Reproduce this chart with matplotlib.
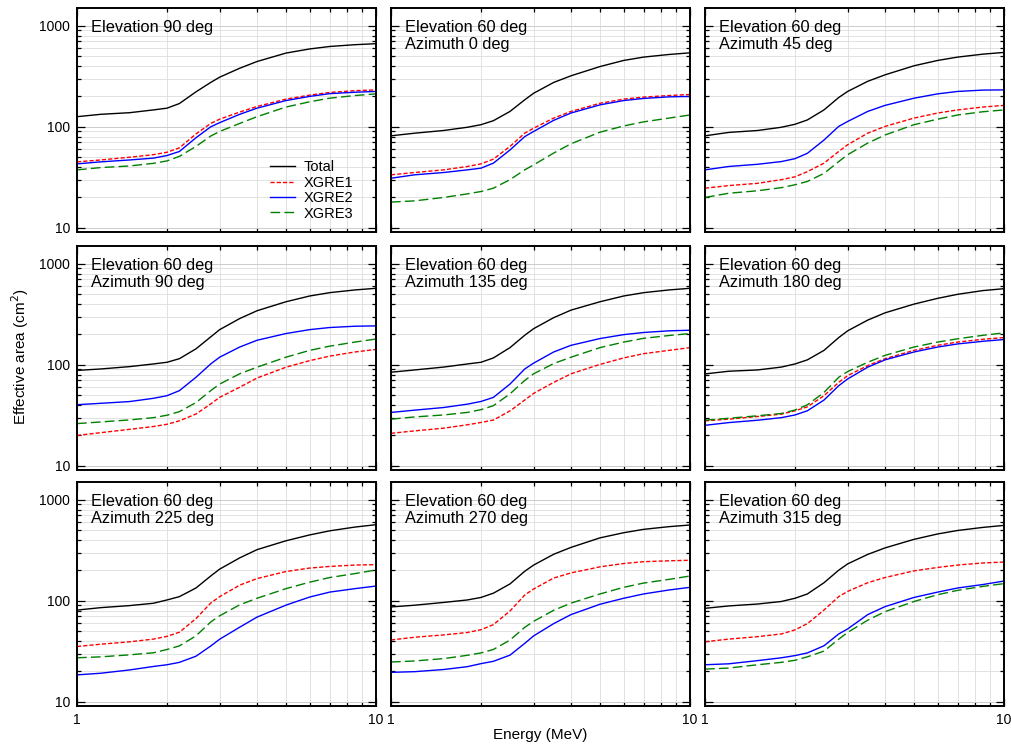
import numpy as np
import matplotlib
matplotlib.use("Agg")
import matplotlib.pyplot as plt
from matplotlib.ticker import FixedLocator, NullFormatter, FixedFormatter

plt.rcParams['font.family'] = ['Liberation Sans', 'DejaVu Sans']

# energy grid (MeV)
energy = [1.0, 1.2, 1.5, 1.8, 2.0, 2.2, 2.5, 2.8, 3.0, 3.5, 4.0, 5.0, 6.0, 7.0, 8.5, 10.0]

titles = ["Elevation 90 deg",
          "Elevation 60 deg\nAzimuth 0 deg",
          "Elevation 60 deg\nAzimuth 45 deg",
          "Elevation 60 deg\nAzimuth 90 deg",
          "Elevation 60 deg\nAzimuth 135 deg",
          "Elevation 60 deg\nAzimuth 180 deg",
          "Elevation 60 deg\nAzimuth 225 deg",
          "Elevation 60 deg\nAzimuth 270 deg",
          "Elevation 60 deg\nAzimuth 315 deg"]

# effective area (cm^2) per panel: total, XGRE1, XGRE2, XGRE3
el90_total = [126, 133, 138, 147, 153, 170, 222, 275, 310, 380, 443, 537, 590, 624, 650, 665]
el90_x1 = [45, 47, 50, 53, 56, 62, 85, 108, 119, 140, 159, 188, 206, 219, 228, 232]
el90_x2 = [43, 45, 47, 49, 52, 57, 78, 100, 110, 133, 153, 182, 200, 213, 220, 224]
el90_x3 = [37.5, 39.5, 41, 43.5, 46, 51, 64, 81, 90, 108, 126, 157, 177, 192, 204, 212]

az0_total = [81.5, 86.5, 92, 99, 105, 115, 142, 185, 215, 275, 320, 395, 454, 490, 520, 540]
az0_x1 = [33.5, 35.3, 37.5, 40.5, 43, 47.9, 64, 86.5, 97, 122, 142, 171, 188, 197, 204, 209]
az0_x2 = [31, 33.5, 35.3, 37.5, 39, 43.7, 59, 80, 90, 116, 137, 165, 182, 191, 198, 200]
az0_x3 = [18, 18.5, 20, 21.7, 22.9, 24.7, 30, 37.5, 42, 55, 68, 88.5, 102, 112, 122, 131]

az45_total = [81.5, 88, 92, 99, 106, 117, 147, 195, 224, 282, 327, 402, 454, 490, 524, 545]
az45_x1 = [24.7, 26.2, 27.6, 30, 32, 36, 43.7, 57, 66.5, 86.5, 101, 122, 137, 147, 157, 163]
az45_x2 = [37.5, 40.5, 42.6, 45.3, 48.4, 54.7, 74, 101, 113, 142, 163, 192, 212, 224, 231, 232]
az45_x3 = [20, 22, 23.3, 25, 26.7, 28.8, 34.6, 45.3, 53, 69, 83, 105, 119, 131, 141, 147]

az90_total = [88, 91, 96, 102, 106, 115, 144, 189, 223, 287, 343, 421, 480, 518, 551, 572]
az90_x1 = [20, 21.3, 23, 24.5, 25.8, 27.9, 32.6, 41, 47.7, 60, 74, 94.8, 110, 122, 134, 142]
az90_x2 = [40.3, 41.6, 43.3, 46.6, 49.5, 55.5, 75.3, 102, 119, 150, 175, 204, 223, 234, 241, 243]
az90_x3 = [26.2, 27.2, 28.5, 30, 31.7, 34.4, 42.3, 55.5, 64.5, 81.5, 94.8, 119, 139, 153, 168, 180]

az135_total = [84.5, 89, 95, 102, 106, 117, 148, 196, 228, 293, 348, 421, 480, 518, 551, 572]
az135_x1 = [21, 22.2, 23.6, 25.5, 26.9, 28.4, 35, 44.8, 52.2, 67, 81.5, 101, 117, 129, 139, 148]
az135_x2 = [33.8, 35.6, 37.8, 40.8, 43.4, 47.6, 64.5, 90.9, 104, 134, 156, 182, 199, 209, 217, 220]
az135_x3 = [29, 30.5, 31.9, 33.8, 36, 39.4, 51.6, 70, 81.5, 103, 119, 148, 168, 183, 195, 204]

az180_total = [81.3, 86.4, 89, 95, 102, 112, 139, 186, 217, 277, 327, 399, 455, 499, 543, 567]
az180_x1 = [27.9, 29, 30.8, 32.5, 35.1, 38.4, 49.5, 67, 78.2, 98.3, 115, 139, 156, 168, 179, 186]
az180_x2 = [25.2, 26.8, 28.3, 30, 31.9, 35.1, 44.8, 62.1, 72.5, 94.8, 112, 134, 150, 161, 171, 178]
az180_x3 = [28.3, 29.6, 31.3, 33, 35.7, 40.2, 53.3, 75.3, 85.8, 106, 124, 150, 168, 181, 196, 207]

az225_total = [81, 85.6, 89.7, 94.6, 102, 110, 134, 176, 206, 266, 321, 393, 449, 493, 537, 567]
az225_x1 = [35.3, 37.2, 39.3, 41.8, 44.5, 48.9, 66.7, 95, 110, 143, 166, 195, 211, 219, 226, 228]
az225_x2 = [18.5, 19.2, 20.7, 22.4, 23.3, 24.6, 28.3, 35.7, 41.7, 54.8, 69, 90.7, 109, 122, 132, 140]
az225_x3 = [27.3, 27.9, 29.2, 30.6, 33, 35.8, 45, 61.7, 71.1, 91.3, 106, 132, 153, 170, 186, 202]

az270_total = [87, 90.5, 96.4, 102, 108, 119, 147, 196, 226, 289, 338, 420, 472, 510, 542, 563]
az270_x1 = [41, 43.6, 46, 48.6, 51.8, 58.1, 79.3, 114, 131, 168, 189, 217, 234, 244, 249, 252]
az270_x2 = [19.6, 19.9, 20.9, 22.3, 23.9, 25.2, 29, 37.9, 45, 59.5, 73.1, 92.5, 106, 117, 128, 136]
az270_x3 = [24.8, 25.4, 26.8, 28.9, 30.5, 33, 40.9, 54.6, 62.7, 80.6, 94.9, 117, 136, 150, 163, 176]

az315_total = [84.3, 89, 93, 98.5, 106, 117, 151, 201, 232, 288, 334, 406, 459, 497, 533, 558]
az315_x1 = [39.3, 41.8, 44.2, 47, 51.6, 59.5, 81.1, 110, 124, 151, 170, 198, 214, 226, 237, 242]
az315_x2 = [23.3, 23.8, 25.6, 27.3, 28.7, 30.5, 35.9, 47, 52.7, 73, 87.6, 108, 122, 134, 145, 157]
az315_x3 = [21.1, 21.6, 23.3, 24.6, 25.8, 27.9, 31.8, 41.7, 48.7, 64.3, 78.1, 98.5, 115, 127, 139, 148]

panels = [
    (el90_total, el90_x1, el90_x2, el90_x3),
    (az0_total, az0_x1, az0_x2, az0_x3),
    (az45_total, az45_x1, az45_x2, az45_x3),
    (az90_total, az90_x1, az90_x2, az90_x3),
    (az135_total, az135_x1, az135_x2, az135_x3),
    (az180_total, az180_x1, az180_x2, az180_x3),
    (az225_total, az225_x1, az225_x2, az225_x3),
    (az270_total, az270_x1, az270_x2, az270_x3),
    (az315_total, az315_x1, az315_x2, az315_x3),
]

labels = ["Total", "XGRE1", "XGRE2", "XGRE3"]
styles = [
    dict(color='black', lw=1.0, ls='-'),
    dict(color='#ff0000', lw=1.0, ls=(0, (3, 1.5))),
    dict(color='#0000ff', lw=1.0, ls='-'),
    dict(color='#008000', lw=1.0, ls=(0, (7, 3))),
]

W, H = 1011, 745
fig = plt.figure(figsize=(W / 100, H / 100), dpi=100)

col_left = [77, 391, 705]
row_top = [8, 246, 482]
ax_w, ax_h = 299, 224

for k in range(9):
    r, c = divmod(k, 3)
    x0 = col_left[c] / W
    y0 = 1 - (row_top[r] + ax_h) / H
    ax = fig.add_axes([x0, y0, ax_w / W, ax_h / H])
    ax.set_xscale('log')
    ax.set_yscale('log')
    ax.set_xlim(1, 10)
    ax.set_ylim(9.1, 1500)

    for ser, lab, st in zip(panels[k], labels, styles):
        ax.plot(energy, ser, label=lab, **st)

    ax.xaxis.set_major_locator(FixedLocator([1, 10]))
    ax.xaxis.set_minor_locator(FixedLocator([2, 3, 4, 5, 6, 7, 8, 9]))
    ax.yaxis.set_major_locator(FixedLocator([10, 100, 1000]))
    ax.yaxis.set_minor_locator(FixedLocator([m * d for d in (10, 100) for m in range(2, 10)]))
    ax.xaxis.set_minor_formatter(NullFormatter())
    ax.yaxis.set_minor_formatter(NullFormatter())
    if r == 2:
        ax.xaxis.set_major_formatter(FixedFormatter(["1", "10"]))
    else:
        ax.xaxis.set_major_formatter(NullFormatter())
    if c == 0:
        ax.yaxis.set_major_formatter(FixedFormatter(["10", "100", "1000"]))
    else:
        ax.yaxis.set_major_formatter(NullFormatter())

    ax.tick_params(which='both', direction='in', top=True, right=True,
                   labelsize=10, colors='black', width=0.9)
    ax.tick_params(which='major', length=6, pad=5)
    ax.tick_params(which='minor', length=3)
    ax.grid(which='major', color='#cccccc', lw=0.7)
    ax.grid(which='minor', color='#dddddd', lw=0.6)
    ax.set_axisbelow(True)
    for sp in ax.spines.values():
        sp.set_linewidth(1.4)

    ax.text(0.047, 0.945, titles[k], transform=ax.transAxes, ha='left', va='top',
            fontsize=11.8, linespacing=1.15)

    if k == 0:
        ax.legend(loc='lower left', bbox_to_anchor=(0.625, 0.025), frameon=False,
                  fontsize=10.5, handlelength=1.75, labelspacing=0.1,
                  handletextpad=0.55, borderaxespad=0)

fig.text(20 / W, 1 - 357 / H, "Effective area (cm$^2$)", rotation=90,
         ha='center', va='center', fontsize=11)
fig.text(540 / W, 1 - 735 / H, "Energy (MeV)", ha='center', va='center', fontsize=11)

fig.savefig("out.png", dpi=100)
